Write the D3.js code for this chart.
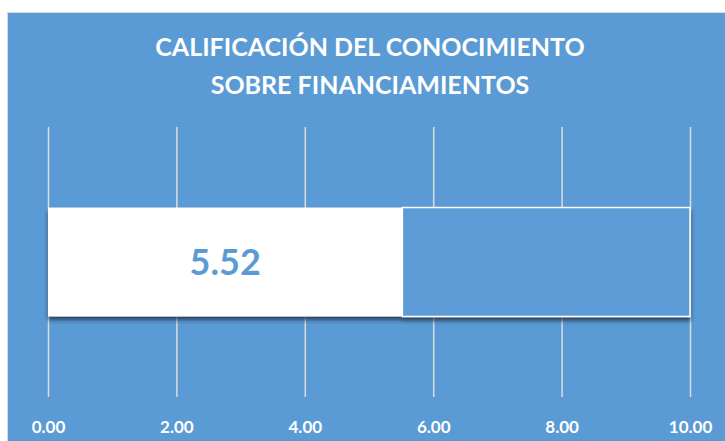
<!DOCTYPE html>
<html>
<head>
<meta charset="utf-8">
<script src="https://cdn.jsdelivr.net/npm/d3@7"></script>
<style>
  body { margin: 0; background: #fff; }
  text { font-family: Lato, "Open Sans", sans-serif; font-weight: bold; }
</style>
</head>
<body>
<script>
var categories = ["Calificación"];
var scoreValues = [5.52];
var maxValues = [10];
var tickValues = [0, 2, 4, 6, 8, 10];
var titleLines = ["CALIFICACIÓN DEL CONOCIMIENTO", "SOBRE FINANCIAMIENTOS"];

var width = 725, height = 441;
var blue = "#5b9bd5";

var svg = d3.select("body").append("svg")
    .attr("width", width)
    .attr("height", height);

var defs = svg.append("defs");
var shadow = defs.append("filter")
    .attr("id", "shadow")
    .attr("x", "-5%").attr("y", "-20%")
    .attr("width", "110%").attr("height", "150%");
shadow.append("feDropShadow")
    .attr("dx", 0).attr("dy", 3.5)
    .attr("stdDeviation", 2)
    .attr("flood-color", "#1a2e47")
    .attr("flood-opacity", 0.85);

// panel
svg.append("rect")
    .attr("x", 7).attr("y", 12)
    .attr("width", width - 7).attr("height", height - 12)
    .attr("fill", blue);
svg.append("path")
    .attr("d", "M7.5," + height + "V12.5H" + width)
    .attr("fill", "none")
    .attr("stroke", "#d9d9d9")
    .attr("stroke-width", 1);

var x = d3.scaleLinear()
    .domain([0, 10])
    .range([48, 690]);

var y = d3.scaleBand()
    .domain(categories)
    .range([127, 397])
    .padding(0.425);

// gridlines
svg.append("g")
    .attr("transform", "translate(0,397)")
    .call(d3.axisBottom(x).tickValues(tickValues).tickSize(-(397 - 127)).tickFormat(""))
    .call(function(g) { g.select(".domain").remove(); })
    .selectAll("line")
      .attr("stroke", "#dcdcdc")
      .attr("stroke-width", 1.5);

// labels
svg.append("g")
    .attr("transform", "translate(0,418)")
    .call(d3.axisBottom(x).tickValues(tickValues).tickSize(0).tickFormat(d3.format(".2f")))
    .call(function(g) { g.select(".domain").remove(); })
    .selectAll("text")
      .attr("fill", "#fff")
      .style("font-size", "17px")
      .style("font-family", "Lato, sans-serif")
      .style("font-weight", "bold");

var bars = svg.append("g").attr("filter", "url(#shadow)");

bars.selectAll(".rest")
    .data(categories)
  .enter().append("rect")
    .attr("class", "rest")
    .attr("x", function(d, i) { return x(scoreValues[i]); })
    .attr("y", function(d) { return y(d); })
    .attr("width", function(d, i) { return x(maxValues[i]) - x(scoreValues[i]); })
    .attr("height", y.bandwidth())
    .attr("fill", blue)
    .attr("stroke", "#fff")
    .attr("stroke-width", 1.5);

bars.selectAll(".score")
    .data(categories)
  .enter().append("rect")
    .attr("class", "score")
    .attr("x", x(0))
    .attr("y", function(d) { return y(d); })
    .attr("width", function(d, i) { return x(scoreValues[i]) - x(0); })
    .attr("height", y.bandwidth())
    .attr("fill", "#fff");

svg.selectAll(".val")
    .data(categories)
  .enter().append("text")
    .attr("class", "val")
    .attr("x", function(d, i) { return (x(0) + x(scoreValues[i])) / 2; })
    .attr("y", function(d) { return y(d) + y.bandwidth() / 2 + 13; })
    .attr("text-anchor", "middle")
    .attr("fill", blue)
    .style("font-size", "36px")
    .text(function(d, i) { return scoreValues[i].toFixed(2); });

svg.selectAll(".title")
    .data(titleLines)
  .enter().append("text")
    .attr("class", "title")
    .attr("x", 370)
    .attr("y", function(d, i) { return 56 + i * 38; })
    .attr("text-anchor", "middle")
    .attr("fill", "#fff")
    .style("font-size", "25px")
    .text(function(d) { return d; });
</script>
</body>
</html>
